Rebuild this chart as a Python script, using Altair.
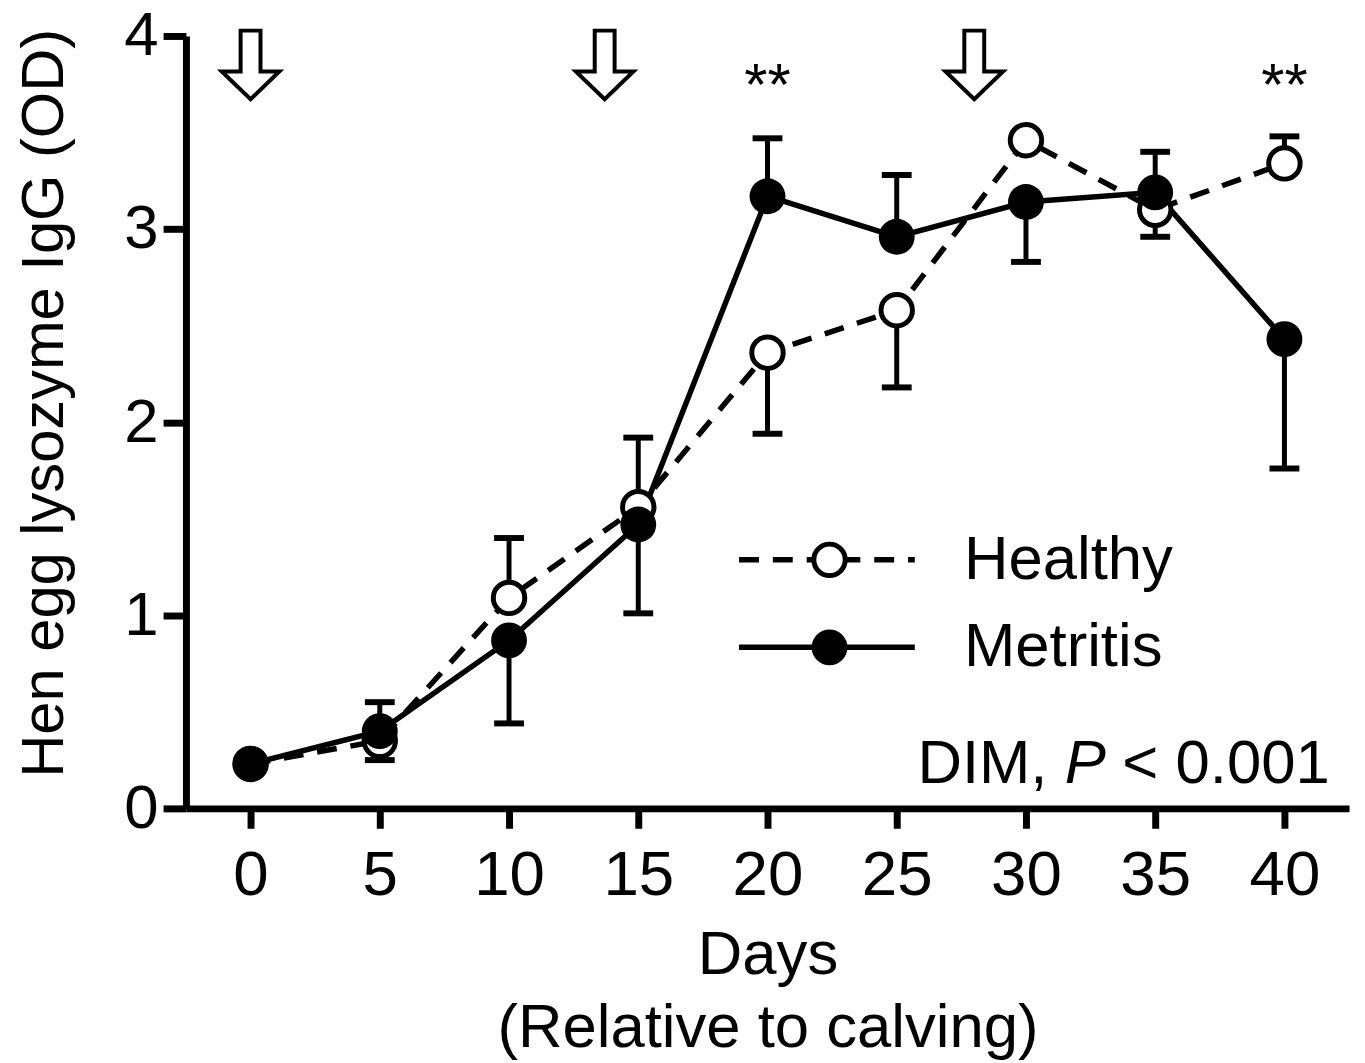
import altair as alt
import pandas as pd

# ---- data ----
days = [0, 5, 10, 15, 20, 25, 30, 35, 40]
healthy_mean = [0.23, 0.35, 1.09, 1.56, 2.36, 2.58, 3.46, 3.10, 3.34]
healthy_err = [0.23, 0.25, 1.40, 1.92, 1.94, 2.18, 3.46, 2.96, 3.48]
metritis_mean = [0.23, 0.40, 0.87, 1.47, 3.17, 2.96, 3.14, 3.19, 2.43]
metritis_err = [0.23, 0.55, 0.44, 1.01, 3.47, 3.28, 2.83, 3.40, 1.76]

arrow_days = [0, 13.7, 28]
arrow_level = 3.85
star_days = [20, 40]
star_level = 3.64

legend_labels = ["Healthy", "Metritis"]
legend_levels = [1.287, 0.834]
legend_line = [18.9, 25.7]
legend_marker = 22.4
legend_text_x = 27.6

stat_parts = ["DIM,", "P", "< 0.001"]
stat_x = [25.8, 31.5, 33.73]
stat_level = 0.129

x_ticks = [0, 5, 10, 15, 20, 25, 30, 35, 40]
y_ticks = [0, 1, 2, 3, 4]

FONT = "Liberation Sans"

h = pd.DataFrame({"day": days, "mean": healthy_mean, "err": healthy_err})
m = pd.DataFrame({"day": days, "mean": metritis_mean, "err": metritis_err})

X = alt.X(
    "day:Q",
    scale=alt.Scale(domain=[-2.5, 42.5], nice=False, zero=False),
    axis=alt.Axis(
        values=x_ticks, format="d", grid=False,
        title=["Days", "(Relative to calving)"],
        titleX=585, titleY=166, titleBaseline="alphabetic", titleAlign="center",
        titleLineHeight=74, titleFontSize=62, titleFontWeight="normal", titleFont=FONT,
        titleColor="black",
        labelFont=FONT, labelFontSize=64, labelColor="black", labelBaseline="alphabetic",
        labelPadding=67, tickSize=20, tickWidth=7, tickColor="black",
        domainWidth=7, domainColor="black", labelFlush=False,
    ),
)
Y = alt.Y(
    "mean:Q",
    scale=alt.Scale(domain=[0, 4], nice=False, zero=False),
    axis=alt.Axis(
        values=y_ticks, format="d", grid=False,
        title="Hen egg lysozyme IgG (OD)",
        titleX=-124, titleY=369, titleAngle=270, titleAlign="center",
        titleBaseline="alphabetic", titleFontSize=60, titleFontWeight="normal",
        titleFont=FONT, titleColor="black",
        labelFont=FONT, labelFontSize=62, labelColor="black",
        labelPadding=5, tickSize=23, tickWidth=7, tickColor="black",
        domainWidth=7, domainColor="black", labelFlush=False,
    ),
)

cap_shape = "M -1 0 L 1 0"
arrow_shape = "M -0.29 -1 L 0.29 -1 L 0.29 0.19 L 0.84 0.19 L 0 1 L -0.84 0.19 L -0.29 0.19 Z"

FILLED_SIZE = 1300
OPEN_SIZE = 1000

def err_layers(df):
    rule = alt.Chart(df).mark_rule(color="black", strokeWidth=5).encode(
        x=X, y=Y, y2="err:Q")
    cap_df = pd.DataFrame({"day": df["day"], "mean": df["err"]})
    caps = alt.Chart(cap_df).mark_point(
        shape=cap_shape, size=900, stroke="black", strokeWidth=6, filled=False, opacity=1
    ).encode(x=X, y=Y)
    return rule, caps

h_rule, h_caps = err_layers(h)
m_rule, m_caps = err_layers(m)

h_line = alt.Chart(h).mark_line(color="black", strokeWidth=5.5, strokeDash=[20, 14]).encode(x=X, y=Y)
m_line = alt.Chart(m).mark_line(color="black", strokeWidth=5.5).encode(x=X, y=Y)

h_pts = alt.Chart(h).mark_circle(
    size=OPEN_SIZE, fill="white", stroke="black", strokeWidth=5, opacity=1
).encode(x=X, y=Y)
m_pts = alt.Chart(m).mark_circle(size=FILLED_SIZE, color="black", opacity=1).encode(x=X, y=Y)

arrows = alt.Chart(pd.DataFrame({"day": arrow_days, "mean": [arrow_level] * len(arrow_days)})).mark_point(
    shape=arrow_shape, size=4761, filled=True, fill="white", stroke="black", strokeWidth=4, opacity=1
).encode(x=X, y=Y)

stars = alt.Chart(pd.DataFrame({"day": star_days, "mean": [star_level] * len(star_days), "t": ["**"] * 2})).mark_text(
    font=FONT, fontSize=60, align="center", baseline="alphabetic", color="black"
).encode(x=X, y=Y, text="t:N")

# manual legend
leg_h_line = alt.Chart(pd.DataFrame({"day": legend_line, "mean": [legend_levels[0]] * 2})).mark_line(
    color="black", strokeWidth=5.5, strokeDash=[20, 14]).encode(x=X, y=Y)
leg_m_line = alt.Chart(pd.DataFrame({"day": legend_line, "mean": [legend_levels[1]] * 2})).mark_line(
    color="black", strokeWidth=5.5).encode(x=X, y=Y)
leg_h_pt = alt.Chart(pd.DataFrame({"day": [legend_marker], "mean": [legend_levels[0]]})).mark_circle(
    size=OPEN_SIZE, fill="white", stroke="black", strokeWidth=5, opacity=1).encode(x=X, y=Y)
leg_m_pt = alt.Chart(pd.DataFrame({"day": [legend_marker], "mean": [legend_levels[1]]})).mark_circle(
    size=FILLED_SIZE, color="black", opacity=1).encode(x=X, y=Y)
leg_text = alt.Chart(pd.DataFrame({"day": [legend_text_x] * 2, "mean": legend_levels, "t": legend_labels})).mark_text(
    font=FONT, fontSize=62, align="left", baseline="middle", color="black").encode(x=X, y=Y, text="t:N")

stat_df = pd.DataFrame({"day": stat_x, "mean": [stat_level] * 3, "t": stat_parts})
stat_a = alt.Chart(stat_df.iloc[[0, 2]]).mark_text(
    font=FONT, fontSize=62, align="left", baseline="alphabetic", color="black").encode(x=X, y=Y, text="t:N")
stat_p = alt.Chart(stat_df.iloc[[1]]).mark_text(
    font=FONT, fontSize=62, fontStyle="italic", align="left", baseline="alphabetic", color="black").encode(x=X, y=Y, text="t:N")

chart = alt.layer(
    h_rule, h_caps, m_rule, m_caps, h_line, m_line, h_pts, m_pts,
    arrows, stars, leg_h_line, leg_m_line, leg_h_pt, leg_m_pt, leg_text, stat_a, stat_p,
).properties(
    width=1170, height=777,
    autosize=alt.AutoSizeParams(type="none"),
    padding={"left": 179, "top": 25, "right": 8, "bottom": 253},
    background="white",
).configure_view(stroke=None)

chart.save("out.html", embed_options={"renderer": "svg", "actions": False})
